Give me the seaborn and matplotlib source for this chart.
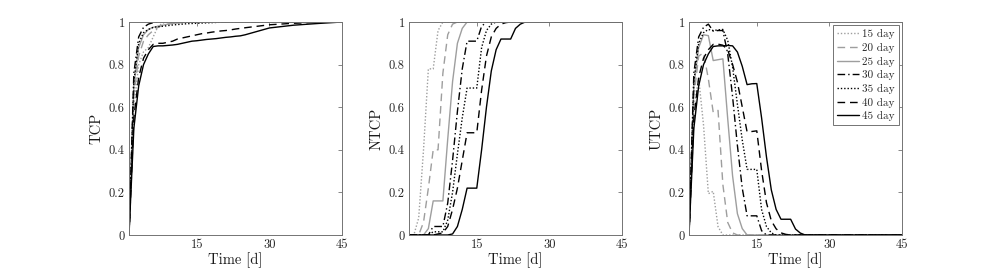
import matplotlib
matplotlib.use("Agg")
import matplotlib.pyplot as plt
import seaborn as sns

# ---------------- data ----------------
DAYS = [1, 2, 3, 4, 5, 6, 7, 8, 9, 10, 11, 12, 13, 14, 15, 16, 17, 18, 19, 20,
        21, 22, 23, 24, 25, 30, 35, 40, 45]
SCHEDULES = ["15 day", "20 day", "25 day", "30 day", "35 day", "40 day", "45 day"]
X_TICKS = [15, 30, 45]
X_TICK_LABELS = ["15", "30", "45"]
Y_TICKS = [0, 0.2, 0.4, 0.6, 0.8, 1.0]
Y_TICK_LABELS = ["0", "0.2", "0.4", "0.6", "0.8", "1"]
Y_LABELS = ["TCP", "NTCP", "UTCP"]
X_LABEL = "Time [d]"

# TCP
tcp_15 = [0, 0.60, 0.80, 0.86, 0.88, 0.93, 0.98, 0.995, 1, 1, 1, 1, 1, 1, 1, 1, 1, 1, 1, 1,
          1, 1, 1, 1, 1, 1, 1, 1, 1]
tcp_20 = [0, 0.65, 0.84, 0.91, 0.94, 0.96, 0.975, 0.985, 0.99, 0.995, 1, 1, 1, 1, 1, 1, 1, 1, 1, 1,
          1, 1, 1, 1, 1, 1, 1, 1, 1]
tcp_25 = [0, 0.70, 0.88, 0.94, 0.965, 0.975, 0.98, 0.985, 0.99, 0.993, 0.995, 0.997, 1, 1, 1, 1, 1, 1, 1, 1,
          1, 1, 1, 1, 1, 1, 1, 1, 1]
tcp_30 = [0, 0.76, 0.93, 0.975, 0.99, 0.997, 1, 1, 1, 1, 1, 1, 1, 1, 1, 1, 1, 1, 1, 1,
          1, 1, 1, 1, 1, 1, 1, 1, 1]
tcp_35 = [0, 0.72, 0.90, 0.95, 0.965, 0.975, 0.978, 0.98, 0.983, 0.986, 0.988, 0.99, 0.992, 0.993, 0.994,
          0.995, 0.996, 0.997, 0.998, 0.999, 1, 1, 1, 1, 1, 1, 1, 1, 1]
tcp_40 = [0, 0.55, 0.74, 0.83, 0.87, 0.895, 0.90, 0.90, 0.905, 0.91, 0.92, 0.925, 0.93, 0.935, 0.94,
          0.945, 0.948, 0.952, 0.955, 0.958, 0.96, 0.963, 0.967, 0.97, 0.973, 0.987, 0.994, 0.998, 1.0]
tcp_45 = [0, 0.50, 0.70, 0.80, 0.85, 0.885, 0.888, 0.888, 0.89, 0.892, 0.895, 0.90, 0.905, 0.91, 0.912,
          0.915, 0.918, 0.92, 0.922, 0.925, 0.928, 0.93, 0.933, 0.935, 0.94, 0.972, 0.985, 0.993, 1.0]

# NTCP
ntcp_15 = [0, 0, 0.08, 0.40, 0.78, 0.78, 0.96, 1, 1, 1, 1, 1, 1, 1, 1, 1, 1, 1, 1, 1,
           1, 1, 1, 1, 1, 1, 1, 1, 1]
ntcp_20 = [0, 0, 0, 0.06, 0.22, 0.40, 0.40, 0.76, 0.94, 0.99, 1, 1, 1, 1, 1, 1, 1, 1, 1, 1,
           1, 1, 1, 1, 1, 1, 1, 1, 1]
ntcp_25 = [0, 0, 0, 0, 0.03, 0.16, 0.16, 0.16, 0.45, 0.72, 0.90, 0.97, 1, 1, 1, 1, 1, 1, 1, 1,
           1, 1, 1, 1, 1, 1, 1, 1, 1]
ntcp_30 = [0, 0, 0, 0, 0, 0.04, 0.04, 0.04, 0.15, 0.35, 0.58, 0.78, 0.91, 0.91, 0.91, 0.98, 1, 1, 1, 1,
           1, 1, 1, 1, 1, 1, 1, 1, 1]
ntcp_35 = [0, 0, 0, 0, 0, 0.015, 0.015, 0.015, 0.07, 0.20, 0.38, 0.55, 0.69, 0.69, 0.69, 0.88, 0.96, 0.99, 1, 1,
           1, 1, 1, 1, 1, 1, 1, 1, 1]
ntcp_40 = [0, 0, 0, 0, 0, 0, 0.005, 0.01, 0.04, 0.12, 0.22, 0.35, 0.48, 0.48, 0.48, 0.68, 0.84, 0.93, 0.97, 0.99,
           0.997, 1, 1, 1, 1, 1, 1, 1, 1]
ntcp_45 = [0, 0, 0, 0, 0, 0, 0, 0, 0, 0.005, 0.04, 0.12, 0.22, 0.22, 0.22, 0.40, 0.60, 0.77, 0.87, 0.92,
           0.92, 0.92, 0.97, 0.99, 1, 1, 1, 1, 1]

# UTCP
utcp_15 = [0, 0.60, 0.736, 0.516, 0.194, 0.205, 0.039, 0, 0, 0, 0, 0, 0, 0, 0, 0, 0, 0, 0, 0,
           0, 0, 0, 0, 0, 0, 0, 0, 0]
utcp_20 = [0, 0.65, 0.84, 0.855, 0.733, 0.576, 0.585, 0.236, 0.059, 0.01, 0, 0, 0, 0, 0, 0, 0, 0, 0, 0,
           0, 0, 0, 0, 0, 0, 0, 0, 0]
utcp_25 = [0, 0.70, 0.88, 0.94, 0.936, 0.819, 0.823, 0.827, 0.545, 0.278, 0.10, 0.03, 0, 0, 0, 0, 0, 0, 0, 0,
           0, 0, 0, 0, 0, 0, 0, 0, 0]
utcp_30 = [0, 0.76, 0.93, 0.975, 0.99, 0.957, 0.96, 0.96, 0.85, 0.65, 0.42, 0.22, 0.09, 0.09, 0.09, 0.02, 0, 0, 0, 0,
           0, 0, 0, 0, 0, 0, 0, 0, 0]
utcp_35 = [0, 0.72, 0.90, 0.95, 0.965, 0.96, 0.963, 0.965, 0.914, 0.789, 0.613, 0.446, 0.308, 0.308, 0.308,
           0.119, 0.04, 0.01, 0, 0, 0, 0, 0, 0, 0, 0, 0, 0, 0]
utcp_40 = [0, 0.55, 0.74, 0.83, 0.87, 0.895, 0.896, 0.891, 0.869, 0.801, 0.718, 0.601, 0.484, 0.486, 0.489,
           0.302, 0.152, 0.067, 0.029, 0.01, 0.003, 0, 0, 0, 0, 0, 0, 0, 0]
utcp_45 = [0, 0.50, 0.70, 0.80, 0.85, 0.885, 0.888, 0.888, 0.89, 0.888, 0.859, 0.792, 0.706, 0.71, 0.711,
           0.549, 0.367, 0.212, 0.12, 0.074, 0.074, 0.074, 0.028, 0.009, 0, 0, 0, 0, 0]

TCP = [tcp_15, tcp_20, tcp_25, tcp_30, tcp_35, tcp_40, tcp_45]
NTCP = [ntcp_15, ntcp_20, ntcp_25, ntcp_30, ntcp_35, ntcp_40, ntcp_45]
UTCP = [utcp_15, utcp_20, utcp_25, utcp_30, utcp_35, utcp_40, utcp_45]

# ---------------- style ----------------
sns.set_style("white")
plt.rcParams["font.family"] = ["cmr10", "DejaVu Serif"]
plt.rcParams["axes.formatter.use_mathtext"] = True
plt.rcParams["mathtext.fontset"] = "cm"

GRAY = "0.62"
DOT = (0, (1.0, 1.4))
DASH = (0, (5.5, 3.5))
DASHDOT = (0, (5.5, 2.2, 1.0, 2.2))
STYLES = [(GRAY, DOT), (GRAY, DASH), (GRAY, "-"),
          ("black", DASHDOT), ("black", DOT), ("black", DASH), ("black", "-")]
SPINE = "0.45"

fig = plt.figure(figsize=(9.96, 2.73), dpi=100)
W = 213 / 996
H = 213 / 273
B = 1 - 235 / 273
lefts = [129 / 996, 409 / 996, 689 / 996]

for i, (panel, ylab) in enumerate(zip([TCP, NTCP, UTCP], Y_LABELS)):
    ax = fig.add_axes([lefts[i], B, W, H])
    for vals, name, (col, ls) in zip(panel, SCHEDULES, STYLES):
        sns.lineplot(x=DAYS, y=vals, ax=ax, color=col, linestyle=ls, linewidth=1.0,
                     label=name if i == 2 else None, legend=False, estimator=None, sort=False)
    ax.set_xlim(1, 45)
    ax.set_ylim(0, 1)
    ax.set_xticks(X_TICKS)
    ax.set_xticklabels(X_TICK_LABELS)
    ax.set_yticks(Y_TICKS)
    ax.set_yticklabels(Y_TICK_LABELS)
    ax.tick_params(direction="in", length=3, width=0.6, color=SPINE,
                   top=True, right=True, labelsize=9, pad=3, labelcolor="0.15")
    for sp in ax.spines.values():
        sp.set_visible(True)
        sp.set_color(SPINE)
        sp.set_linewidth(0.7)
    ax.set_xlabel(X_LABEL, fontsize=10.5, labelpad=1, color="0.1")
    ax.set_ylabel(ylab, fontsize=10.5, labelpad=4, color="0.1")
    if i == 2:
        leg = ax.legend(loc="upper right", fontsize=8, frameon=True, fancybox=False,
                        framealpha=1, edgecolor=SPINE, borderpad=0.35, labelspacing=0.33,
                        handlelength=2.0, handletextpad=0.25, borderaxespad=0.3)
        leg.get_frame().set_linewidth(0.7)

fig.savefig("out.png", dpi=100)
